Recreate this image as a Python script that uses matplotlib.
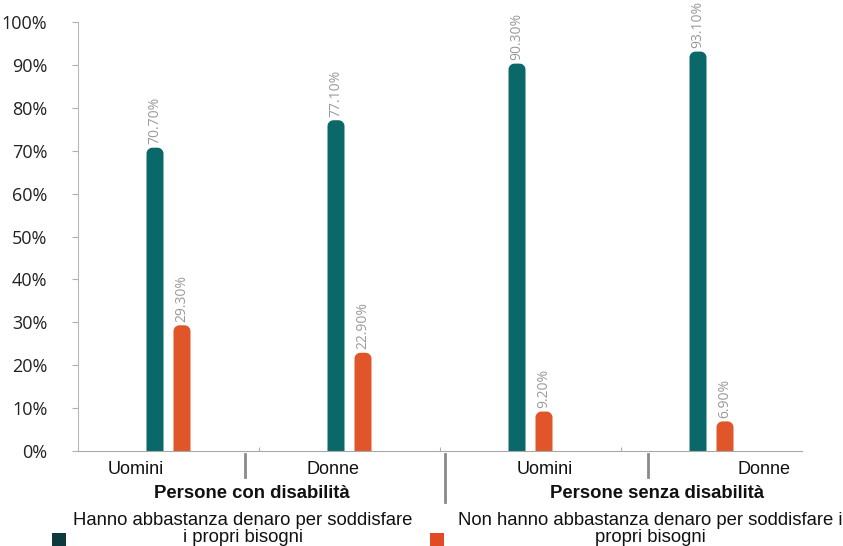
import numpy as np
import matplotlib.pyplot as plt
from matplotlib.patches import Polygon, Rectangle

plt.rcParams['font.family'] = ['Liberation Sans', 'DejaVu Sans']

# valori (%)
gruppi = ['Persone con disabilità', 'Persone senza disabilità']
sesso = ['Uomini', 'Donne', 'Uomini', 'Donne']
hanno = [70.7, 77.1, 90.3, 93.1]
non_hanno = [29.3, 22.9, 9.2, 6.9]
etichette_hanno = ['70.70%', '77.10%', '90.30%', '93.10%']
etichette_non = ['29.30%', '22.90%', '9.20%', '6.90%']
leg_hanno = 'Hanno abbastanza denaro per soddisfare\ni propri bisogni'
leg_non = 'Non hanno abbastanza denaro per soddisfare i\npropri bisogni'

verde = '#0b6869'
arancio = '#e0562a'
grigio = '#9a9a9a'

fig = plt.figure(figsize=(8.43, 5.46), dpi=100)
ax = fig.add_axes([78/843, 1-451/546, (802-78)/843, (451-22)/546])
ax.set_xlim(-0.5, 3.5)
ax.set_ylim(0, 100)

# px -> unità dati, per arrotondare le cime delle barre
px_x = 4.0/(802-78)
px_y = 100.0/(451-22)
w = 17*px_x
off = 13.5*px_x
rx = 6*px_x
ry = 6*px_y


def barra(x, v, col):
    t = np.linspace(0, np.pi/2, 12)
    sx = x - w/2 + rx - rx*np.cos(t)
    sy = v - ry + ry*np.sin(t)
    dx = x + w/2 - rx + rx*np.sin(t)
    dy = v - ry + ry*np.cos(t)
    pts = [(x-w/2, 0)] + list(zip(sx, sy)) + list(zip(dx, dy)) + [(x+w/2, 0)]
    ax.add_patch(Polygon(pts, closed=True, fc=col, ec='none', lw=0, zorder=2))


for i in range(len(hanno)):
    barra(i-off, hanno[i], verde)
    barra(i+off, non_hanno[i], arancio)
    ax.annotate(etichette_hanno[i], (i-off, hanno[i]), xytext=(0, 2.5), textcoords='offset points',
                rotation=90, ha='center', va='bottom', color=grigio, fontsize=10,
                family=['Open Sans', 'DejaVu Sans'], annotation_clip=False)
    ax.annotate(etichette_non[i], (i+off, non_hanno[i]), xytext=(0, 2.5), textcoords='offset points',
                rotation=90, ha='center', va='bottom', color=grigio, fontsize=10,
                family=['Open Sans', 'DejaVu Sans'], annotation_clip=False)

ax.set_yticks(range(0, 101, 10))
ax.set_yticklabels(['%d%%' % t for t in range(0, 101, 10)], fontsize=13,
                   family=['Open Sans', 'DejaVu Sans'], color='#222222')
ax.tick_params(axis='y', length=4, color='#b0b0b0', pad=18)
ax.set_xticks([0.5, 1.5, 2.5])
ax.set_xticklabels([])
ax.tick_params(axis='x', length=3, direction='in', color='#b0b0b0')
for s in ['top', 'right']:
    ax.spines[s].set_visible(False)
ax.spines['left'].set_color('#b8b8b8')
ax.spines['bottom'].set_color('#a8a8a8')

# etichette categorie sotto l'asse
tr = ax.get_xaxis_transform()
pos_sesso = [-0.18, 0.91, 2.08, 3.29]
for x, t in zip(pos_sesso, sesso):
    ax.text(x, -0.042, t, transform=tr, ha='center', va='center', fontsize=13, color='#111111')
pos_gruppi = [0.46, 2.70]
for x, t in zip(pos_gruppi, gruppi):
    ax.text(x, -0.1, t, transform=tr, ha='center', va='center', fontsize=13.3,
            fontweight='bold', color='#111111')
for x, y0 in [(0.42, -0.06), (1.53, -0.12), (2.65, -0.06)]:
    ax.plot([x, x], [-0.008, y0], transform=tr, color='#8a8a8a', lw=2, clip_on=False)

# legenda
fig.patches.append(Rectangle((52/843, 0.0), 14/843, 13/546, transform=fig.transFigure,
                             fc='#0d3b3d', ec='none'))
fig.patches.append(Rectangle((430/843, 0.0), 14/843, 13/546, transform=fig.transFigure,
                             fc='#e04a25', ec='none'))
fig.text(243/843, 1-529/546, leg_hanno, ha='center', va='center', fontsize=13.3,
         linespacing=1.0, color='#111111')
fig.text(650/843, 1-529/546, leg_non, ha='center', va='center', fontsize=13.3,
         linespacing=1.0, color='#111111')

fig.savefig('out.png', dpi=100)
